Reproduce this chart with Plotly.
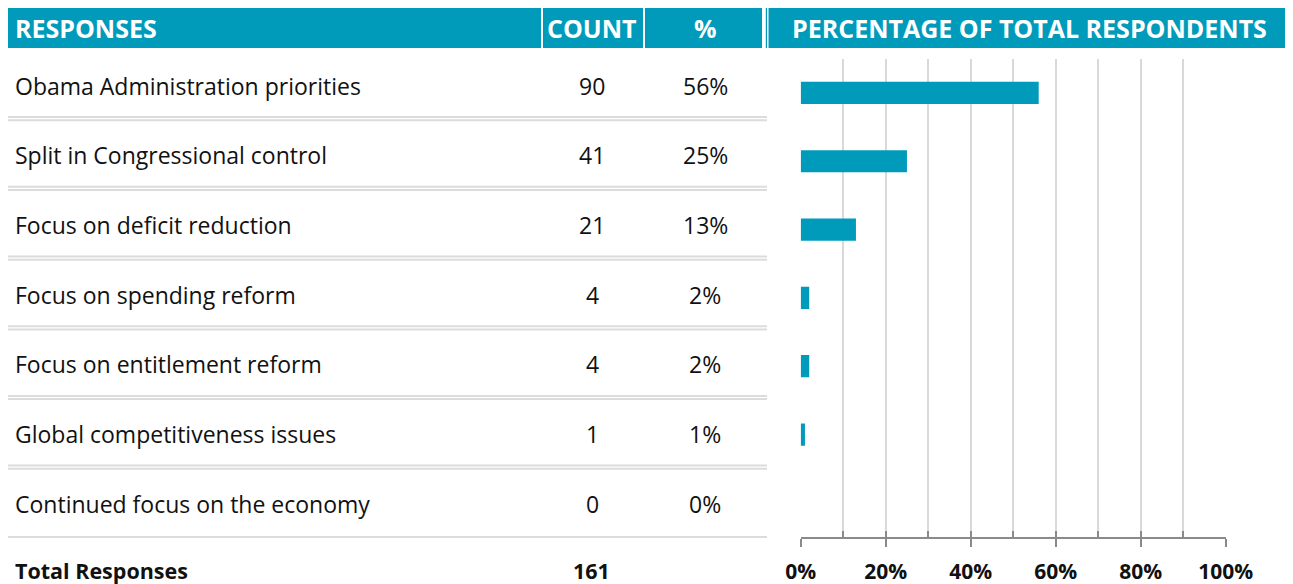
import plotly.graph_objects as go

# ---- data ----
responses = [
    "Obama Administration priorities",
    "Split in Congressional control",
    "Focus on deficit reduction",
    "Focus on spending reform",
    "Focus on entitlement reform",
    "Global competitiveness issues",
    "Continued focus on the economy",
]
counts = [90, 41, 21, 4, 4, 1, 0]
percents = [56, 25, 13, 2, 2, 1, 0]
total_label = "Total Responses"
total_count = 161
headers = ["RESPONSES", "COUNT", "%", "PERCENTAGE OF TOTAL RESPONDENTS"]

# ---- layout helpers ----
W, H = 1293, 584
OFF = 8  # page body margin offsets the figure on screen
TEAL = "#009BBB"
FONT = "Open Sans"
TXT = "#111111"


def px(x):
    return (x - OFF) / W


def py(y):
    return 1 - (y - OFF) / H


fig = go.Figure()
fig.add_trace(go.Bar(
    x=[p / 100 for p in percents], y=responses, orientation="h",
    marker=dict(color=TEAL, line=dict(width=0)),
    hoverinfo="skip", showlegend=False,
))
# invisible trace carrying the overlay axis that draws the upward ticks
fig.add_trace(go.Scatter(x=[0, 1], y=[responses[0], responses[0]], xaxis="x2",
                         mode="markers", marker=dict(opacity=0), hoverinfo="skip",
                         showlegend=False))

x_dom = [px(800.7), px(1225.7)]
y_dom = [py(537), py(58.8)]

fig.update_layout(
    template="none",
    width=W, height=H, autosize=False,
    margin=dict(l=0, r=0, t=0, b=0, pad=0, autoexpand=False),
    paper_bgcolor="white", plot_bgcolor="white",
    bargap=0.675,
    font=dict(family=FONT, color=TXT),
    xaxis=dict(
        domain=x_dom, range=[0, 1], fixedrange=True, automargin=False,
        tickmode="linear", tick0=0, dtick=0.2, tickformat=".0%",
        showgrid=True, gridcolor="#d9d9d9", gridwidth=2,
        zeroline=False,
        showline=True, linecolor="#8a8a8a", linewidth=2,
        ticks="outside", ticklen=8, tickwidth=2, tickcolor="#8a8a8a",
        tickfont=dict(family=FONT, size=21, color=TXT, weight="bold"),
        ticklabelstandoff=7,
        minor=dict(dtick=0.1, tick0=0, showgrid=True, gridcolor="#d9d9d9", gridwidth=2,
                   ticks=""),
    ),
    xaxis2=dict(
        domain=x_dom, range=[0, 1], overlaying="x", anchor="y", side="bottom",
        automargin=False,
        tickmode="linear", tick0=0, dtick=0.1, showticklabels=False,
        showgrid=False, zeroline=False, showline=False,
        ticks="inside", ticklen=6, tickwidth=2, tickcolor="#8a8a8a", fixedrange=True,
    ),
    yaxis=dict(
        domain=y_dom, autorange="reversed", showticklabels=False, automargin=False,
        showgrid=False, zeroline=False, showline=False, ticks="", fixedrange=True,
    ),
)

shapes = []
# header bars
shapes.append(dict(type="rect", xref="paper", yref="paper", x0=px(7), x1=px(762), y0=py(48), y1=py(6),
                   fillcolor=TEAL, line=dict(width=0)))
shapes.append(dict(type="rect", xref="paper", yref="paper", x0=px(765.8), x1=px(767), y0=py(48), y1=py(6),
                   fillcolor=TEAL, line=dict(width=0)))
shapes.append(dict(type="rect", xref="paper", yref="paper", x0=px(768.5), x1=1, y0=py(48), y1=py(6),
                   fillcolor=TEAL, line=dict(width=0)))
for xd in (542, 644):
    shapes.append(dict(type="line", xref="paper", yref="paper", x0=px(xd), x1=px(xd), y0=py(48), y1=py(6),
                       line=dict(color="white", width=2)))

# table rows
row0, row_step = 85.5, 69.7
for i in range(len(responses)):
    sep = row0 + row_step * i + 33.2
    if i < len(responses) - 1:
        for dy in (-1.6, 1.6):
            shapes.append(dict(type="line", xref="paper", yref="paper", x0=px(6), x1=px(767),
                               y0=py(sep + dy), y1=py(sep + dy),
                               line=dict(color="#dcdcdc", width=2)))
    else:
        shapes.append(dict(type="line", xref="paper", yref="paper", x0=px(6), x1=px(767),
                           y0=py(sep), y1=py(sep), line=dict(color="#dcdcdc", width=2)))

annotations = []
head_pos = [(13, "left"), (592, "center"), (705, "center"), (1029, "center")]
for text, (xp, anc) in zip(headers, head_pos):
    annotations.append(dict(text=text, xref="paper", yref="paper", x=px(xp), y=py(27.5),
                            xanchor=anc, yanchor="middle", showarrow=False,
                            font=dict(family=FONT, size=25, color="white", weight="bold")))

BODY = 23
for i, (r, c, p) in enumerate(zip(responses, counts, percents)):
    yc = row0 + row_step * i
    annotations.append(dict(text=r, xref="paper", yref="paper", x=px(13), y=py(yc),
                            xanchor="left", yanchor="middle", showarrow=False,
                            font=dict(family=FONT, size=BODY, color=TXT)))
    annotations.append(dict(text=str(c), xref="paper", yref="paper", x=px(592), y=py(yc),
                            xanchor="center", yanchor="middle", showarrow=False,
                            font=dict(family=FONT, size=BODY, color=TXT)))
    annotations.append(dict(text=f"{p}%", xref="paper", yref="paper", x=px(705), y=py(yc),
                            xanchor="center", yanchor="middle", showarrow=False,
                            font=dict(family=FONT, size=BODY, color=TXT)))

annotations.append(dict(text=total_label, xref="paper", yref="paper", x=px(13), y=py(570),
                        xanchor="left", yanchor="middle", showarrow=False,
                        font=dict(family=FONT, size=21.5, color=TXT, weight="bold")))
annotations.append(dict(text=str(total_count), xref="paper", yref="paper", x=px(591), y=py(570),
                        xanchor="center", yanchor="middle", showarrow=False,
                        font=dict(family=FONT, size=21.5, color=TXT, weight="bold")))

fig.update_layout(shapes=shapes, annotations=annotations)
fig.write_html("out.html")
